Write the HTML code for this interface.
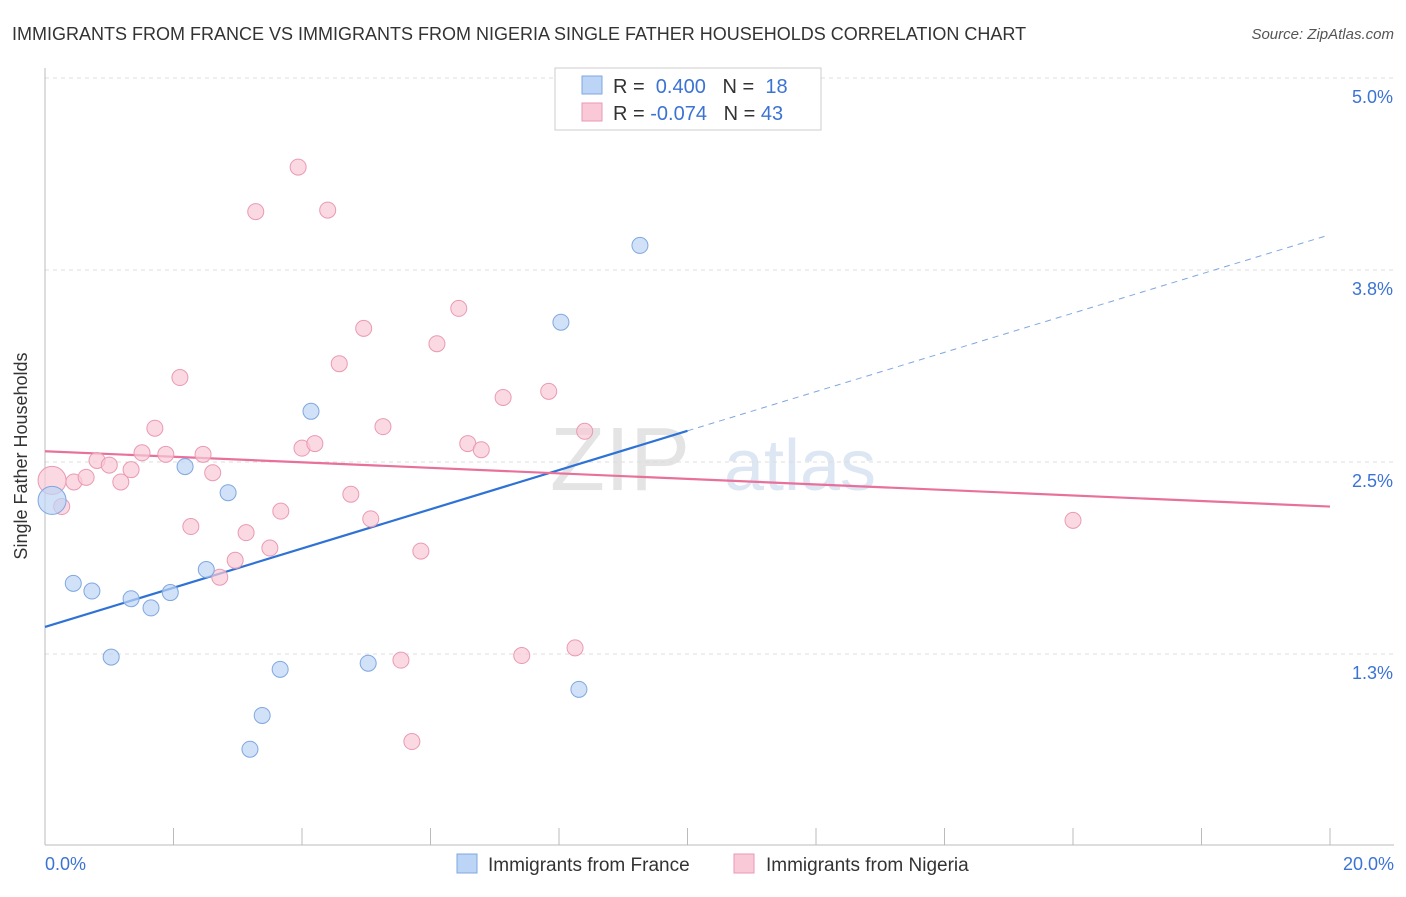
<!DOCTYPE html>
<html><head><meta charset="utf-8"><style>
body{margin:0;background:#fff;font-family:"Liberation Sans",sans-serif;}
svg text{font-family:"Liberation Sans",sans-serif;}
</style></head><body>
<svg id="chart" width="1406" height="892">
<text x="12" y="40" font-size="18" fill="#333">IMMIGRANTS FROM FRANCE VS IMMIGRANTS FROM NIGERIA SINGLE FATHER HOUSEHOLDS CORRELATION CHART</text>
<text x="1394" y="39" font-size="15" fill="#555" text-anchor="end" font-style="italic">Source: ZipAtlas.com</text>
<text x="27" y="456" font-size="18" fill="#333" text-anchor="middle" transform="rotate(-90 27 456)">Single Father Households</text>
<text x="620" y="490" font-size="90" fill="#e4e4e4" font-family="Liberation Serif" text-anchor="middle">ZIP</text>
<text x="800" y="490" font-size="72" fill="#dde6f3" text-anchor="middle">atlas</text>
<g id="grid"></g><g id="axes"></g><g id="lines"></g><g id="pts"></g>
<g>
<rect x="555" y="68" width="266" height="62" fill="#fff" stroke="#ccc"/>
<rect x="582" y="76" width="20" height="18" fill="#bcd4f5" stroke="#7fa7e0"/>
<text x="613" y="93" font-size="20" fill="#333">R = <tspan fill="#3b73d4">&#160;0.400</tspan>&#160;&#160;&#160;N = <tspan fill="#3b73d4">&#160;18</tspan></text>
<rect x="582" y="103" width="20" height="18" fill="#f9c9d7" stroke="#ea9ab3"/>
<text x="613" y="120" font-size="20" fill="#333">R = <tspan fill="#3b73d4">-0.074</tspan>&#160;&#160;&#160;N = <tspan fill="#3b73d4">43</tspan></text>
</g>
<g>
<rect x="457" y="854" width="20" height="19" fill="#bcd4f5" stroke="#7fa7e0"/>
<text x="488" y="871" font-size="19" fill="#333">Immigrants from France</text>
<rect x="734" y="854" width="20" height="19" fill="#f9c9d7" stroke="#ea9ab3"/>
<text x="766" y="871" font-size="19" fill="#333">Immigrants from Nigeria</text>
</g>
</svg>
<script>
const yTicks=[1.25,2.5,3.75,5.0];
const yTickLabels=["1.3%","2.5%","3.8%","5.0%"];
const xTickLabels=["0.0%","20.0%"];
const franceX=[0.11,0.44,0.73,1.03,1.34,1.65,1.95,2.18,2.51,2.85,3.19,3.38,3.66,4.14,5.03,8.03,8.31,9.26];
const franceY=[2.25,1.71,1.66,1.23,1.61,1.55,1.65,2.47,1.80,2.30,0.63,0.85,1.15,2.83,1.19,3.41,1.02,3.91];
const nigeriaX=[0.11,0.26,0.45,0.64,0.81,1.0,1.18,1.34,1.51,1.71,1.88,2.10,2.27,2.46,2.61,2.72,2.96,3.13,3.28,3.50,3.67,3.94,4.0,4.20,4.40,4.58,4.76,4.96,5.07,5.26,5.54,5.71,5.85,6.10,6.44,6.58,6.79,7.13,7.42,7.84,8.25,8.40,16.0];
const nigeriaY=[2.38,2.21,2.37,2.40,2.51,2.48,2.37,2.45,2.56,2.72,2.55,3.05,2.08,2.55,2.43,1.75,1.86,2.04,4.13,1.94,2.18,4.42,2.59,2.62,4.14,3.14,2.29,3.37,2.13,2.73,1.21,0.68,1.92,3.27,3.50,2.62,2.58,2.92,1.24,2.96,1.29,2.70,2.12];
const franceTrend=[1.426,3.98];
const nigeriaTrend=[2.57,2.21];
const X=v=>45+v*64.25, Y=v=>462-(v-2.5)*153.6;
const NS="http://www.w3.org/2000/svg";
function mk(p,t,a){const e=document.createElementNS(NS,t);for(const k in a)e.setAttribute(k,a[k]);document.getElementById(p).appendChild(e);return e;}
yTicks.forEach((t,i)=>{
 let l=mk('grid','line',{x1:45,x2:1394,y1:Y(t),y2:Y(t),stroke:'#ddd','stroke-dasharray':'4,4'});
 
 
 let tx=mk('grid','text',{x:1393,y:Y(t)+25,'font-size':18,fill:'#3b73d4','text-anchor':'end'});
 tx.textContent=yTickLabels[i];
 
 
});
let ax=mk('axes','line',{x1:45,x2:45,y1:68,y2:845,stroke:'#bbb'});


let bx=mk('axes','line',{x1:45,x2:1394,y1:845,y2:845,stroke:'#bbb'});


for(let i=0;i<=10;i++){let t=mk('axes','line',{x1:X(i*2),x2:X(i*2),y1:828,y2:845,stroke:'#bbb'});
 
 }
[[0,'start',45],[20,'end',1394]].forEach((d,i)=>{let t=mk('axes','text',{x:d[2],y:870,'font-size':18,fill:'#3b73d4','text-anchor':d[1]});t.textContent=xTickLabels[i];
 
 });
const fy=x=>franceTrend[0]+(franceTrend[1]-franceTrend[0])*x/20;
let l1=mk('lines','line',{x1:X(0),y1:Y(fy(0)),x2:X(10),y2:Y(fy(10)),stroke:'#2f72d6','stroke-width':2.2});


let l2=mk('lines','line',{x1:X(10),y1:Y(fy(10)),x2:X(19.93),y2:Y(fy(19.93)),stroke:'#7fa7e0','stroke-width':1,'stroke-dasharray':'6,5'});


let l3=mk('lines','line',{x1:X(0),y1:Y(nigeriaTrend[0]),x2:X(20),y2:Y(nigeriaTrend[1]),stroke:'#e8719b','stroke-width':2.2});


nigeriaX.forEach((x,i)=>{let c=mk('pts','circle',{cx:X(x),cy:Y(nigeriaY[i]),r:i==0?14:8,fill:'#f9c9d7','fill-opacity':0.7,stroke:'#ea9ab3'});
 
 });
franceX.forEach((x,i)=>{let c=mk('pts','circle',{cx:X(x),cy:Y(franceY[i]),r:i==0?14:8,fill:'#bcd4f5','fill-opacity':0.7,stroke:'#7fa7e0'});
 
 });
</script>
</body></html>
